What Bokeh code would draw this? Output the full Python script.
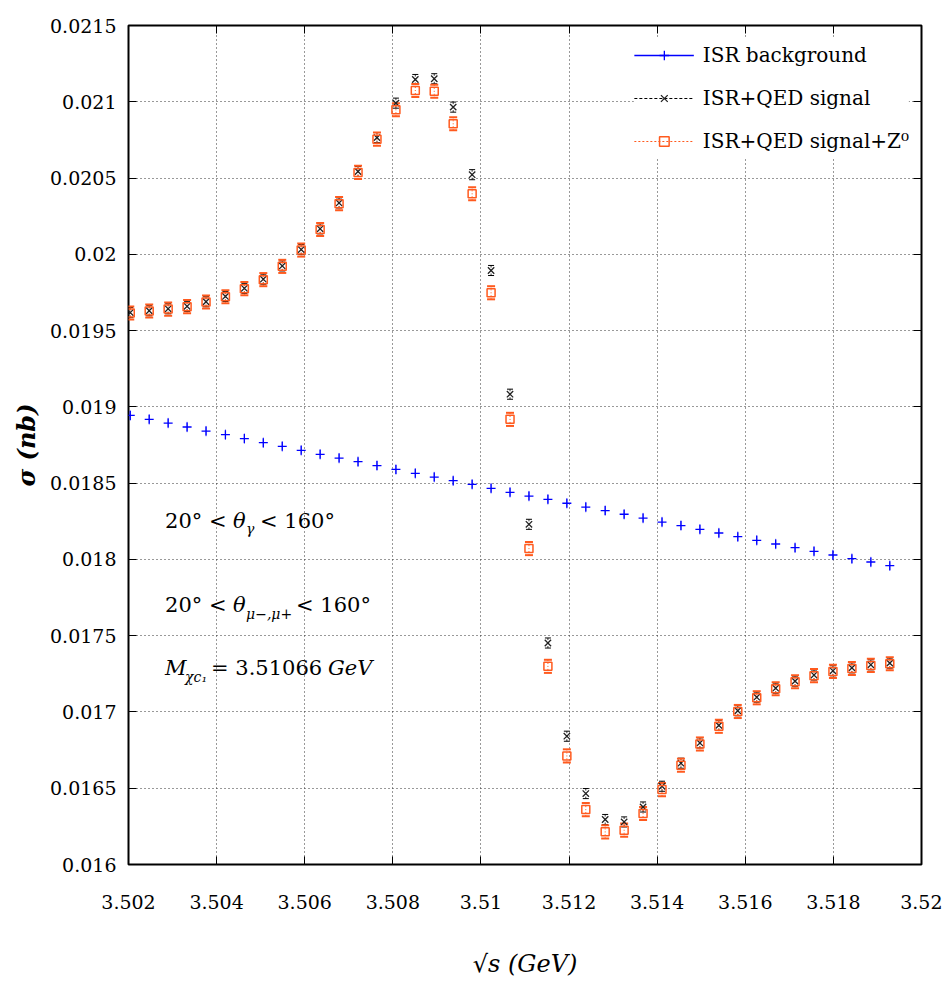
from bokeh.plotting import figure
from bokeh.models import (Range1d, FixedTicker, CustomJSTickFormatter, LinearAxis, Legend,
                          LegendItem, Whisker, TeeHead, ColumnDataSource, Label)
from bokeh.embed import file_html
from bokeh.resources import INLINE

# ---------------- data ----------------
energy = [3.50204, 3.50247, 3.50290, 3.50333, 3.50376, 3.50420, 3.50463, 3.50506, 3.50549,
          3.50592, 3.50635, 3.50678, 3.50721, 3.50764, 3.50807, 3.50851, 3.50894, 3.50937,
          3.50980, 3.51023, 3.51066, 3.51109, 3.51152, 3.51195, 3.51238, 3.51282, 3.51325,
          3.51368, 3.51411, 3.51454, 3.51497, 3.51540, 3.51583, 3.51626, 3.51669, 3.51713,
          3.51756, 3.51799, 3.51842, 3.51885, 3.51928]

isr_background = [0.018944, 0.018918, 0.018894, 0.018868, 0.018841, 0.018818, 0.018792,
                  0.018765, 0.018741, 0.018715, 0.018689, 0.018664, 0.018641, 0.018615,
                  0.018590, 0.018564, 0.018540, 0.018516, 0.018492, 0.018466, 0.018440,
                  0.018415, 0.018394, 0.018368, 0.018343, 0.018320, 0.018296, 0.018271,
                  0.018245, 0.018222, 0.018197, 0.018173, 0.018149, 0.018125, 0.018101,
                  0.018077, 0.018053, 0.018029, 0.018005, 0.017983, 0.017959]

isr_qed_signal = [0.019618, 0.019630, 0.019643, 0.019659, 0.019689, 0.019724, 0.019777,
                  0.019837, 0.019924, 0.020031, 0.020167, 0.020337, 0.020543, 0.020765,
                  0.020991, 0.021146, 0.021151, 0.020965, 0.020522, 0.019894, 0.019083,
                  0.018230, 0.017452, 0.016841, 0.016465, 0.016295, 0.016279, 0.016377,
                  0.016513, 0.016664, 0.016797, 0.016912, 0.017008, 0.017097, 0.017156,
                  0.017202, 0.017242, 0.017270, 0.017289, 0.017309, 0.017320]

isr_qed_signal_z0 = [0.019615, 0.019628, 0.019641, 0.019657, 0.019687, 0.019722, 0.019775,
                     0.019834, 0.019921, 0.020028, 0.020163, 0.020332, 0.020537, 0.020755,
                     0.020948, 0.021074, 0.021069, 0.020856, 0.020397, 0.019748, 0.018918,
                     0.018071, 0.017299, 0.016712, 0.016360, 0.016214, 0.016225, 0.016334,
                     0.016491, 0.016651, 0.016790, 0.016906, 0.017003, 0.017093, 0.017152,
                     0.017198, 0.017238, 0.017266, 0.017285, 0.017305, 0.017316]

bg_err = 0.000034
sig_err = 0.000033
z0_err = 0.000043

x_ticks = [3.502, 3.504, 3.506, 3.508, 3.51, 3.512, 3.514, 3.516, 3.518, 3.52]
x_tick_labels = ["3.502", "3.504", "3.506", "3.508", "3.51", "3.512", "3.514", "3.516",
                 "3.518", "3.52"]
y_ticks = [0.016, 0.0165, 0.017, 0.0175, 0.018, 0.0185, 0.019, 0.0195, 0.02, 0.0205,
           0.021, 0.0215]
y_tick_labels = ["0.016", "0.0165", "0.017", "0.0175", "0.018", "0.0185", "0.019",
                 "0.0195", "0.02", "0.0205", "0.021", "0.0215"]

series_labels = ["ISR background", "ISR+QED signal", "ISR+QED signal+Z\u2070"]

BLUE = "#0000ff"
BLACK = "#000000"
ORANGE = "#ff5a1e"
FONT = "DejaVu Serif"

# ---------------- figure ----------------
p = figure(width=942, height=988, output_backend="svg", toolbar_location=None,
           x_range=Range1d(3.502, 3.52), y_range=Range1d(0.016, 0.0215),
           min_border_left=128, min_border_right=21, min_border_top=25,
           min_border_bottom=124)
p.background_fill_color = "white"
p.border_fill_color = "white"
p.outline_line_color = "black"
p.outline_line_width = 2

xt = FixedTicker(ticks=x_ticks, minor_ticks=[])
yt = FixedTicker(ticks=y_ticks, minor_ticks=[])
fmt_code = """
let best = 0;
for (let i = 0; i < vals.length; i++) {
  if (Math.abs(vals[i] - tick) < Math.abs(vals[best] - tick)) best = i;
}
return labs[best];
"""
xfmt = CustomJSTickFormatter(args=dict(vals=x_ticks, labs=x_tick_labels), code=fmt_code)
yfmt = CustomJSTickFormatter(args=dict(vals=y_ticks, labs=y_tick_labels), code=fmt_code)

for ax, tk, fm in ((p.xaxis[0], xt, xfmt), (p.yaxis[0], yt, yfmt)):
    ax.ticker = tk
    ax.formatter = fm
    ax.axis_line_color = None
    ax.major_tick_in = 8
    ax.major_tick_out = 0
    ax.major_tick_line_color = "black"
    ax.major_tick_line_width = 1
    ax.minor_tick_line_color = None
    ax.major_label_text_font = FONT
    ax.major_label_text_font_size = "19px"
    ax.major_label_text_color = "black"
    ax.axis_label_text_font = FONT
    ax.axis_label_text_color = "black"

p.xaxis[0].major_label_standoff = 30
p.yaxis[0].major_label_standoff = 12
p.xaxis[0].axis_label = "\u221as (GeV)"
p.xaxis[0].axis_label_text_font_style = "italic"
p.xaxis[0].axis_label_text_font_size = "24px"
p.xaxis[0].axis_label_standoff = 38
p.yaxis[0].axis_label = "\u03c3 (nb)"
p.yaxis[0].axis_label_text_font_style = "bold italic"
p.yaxis[0].axis_label_text_font_size = "24px"
p.yaxis[0].axis_label_standoff = 6

# mirrored tick marks on top and right (no labels)
blank = CustomJSTickFormatter(code="return ''")
for side, tk in (("above", xt), ("right", yt)):
    ax = LinearAxis(ticker=tk, formatter=blank, axis_line_color=None, major_tick_in=8,
                    major_tick_out=0, minor_tick_line_color=None, major_label_standoff=0)
    p.add_layout(ax, side)

for g, tk in ((p.xgrid[0], xt), (p.ygrid[0], yt)):
    g.ticker = tk
    g.grid_line_color = "#333333"
    g.grid_line_dash = "1 3"
    g.grid_line_width = 1

# ---------------- data glyphs ----------------
src = ColumnDataSource(dict(
    x=energy,
    bg=isr_background,
    bg_lo=[v - bg_err for v in isr_background],
    bg_hi=[v + bg_err for v in isr_background],
    sig=isr_qed_signal,
    sig_lo=[v - sig_err for v in isr_qed_signal],
    sig_hi=[v + sig_err for v in isr_qed_signal],
    z0=isr_qed_signal_z0,
    z0_lo=[v - z0_err for v in isr_qed_signal_z0],
    z0_hi=[v + z0_err for v in isr_qed_signal_z0],
))

p.add_layout(Whisker(source=src, base="x", lower="bg_lo", upper="bg_hi", dimension="height",
                     line_color=BLUE, line_width=1, line_alpha=0.6,
                     lower_head=None, upper_head=None))
r_bg = p.scatter("x", "bg", source=src, marker="cross", size=9, line_color=BLUE,
                 line_width=1.3)

p.add_layout(Whisker(source=src, base="x", lower="sig_lo", upper="sig_hi", dimension="height",
                     line_color=BLACK, line_width=0.8, line_dash="2 2",
                     lower_head=TeeHead(size=6, line_color=BLACK, line_width=1),
                     upper_head=TeeHead(size=6, line_color=BLACK, line_width=1)))
r_sig = p.scatter("x", "sig", source=src, marker="x", size=9, line_color="#222222",
                  line_width=1.3)

p.add_layout(Whisker(source=src, base="x", lower="z0_lo", upper="z0_hi", dimension="height",
                     line_color=ORANGE, line_width=1, line_dash="1 2",
                     lower_head=TeeHead(size=8, line_color=ORANGE, line_width=2),
                     upper_head=TeeHead(size=8, line_color=ORANGE, line_width=2)))
r_z0 = p.scatter("x", "z0", source=src, marker="square", size=8, line_color=ORANGE,
                 fill_color=None, line_width=1.5)

# legend sample lines: single-point lines draw nothing on the plot, only in the legend
l_bg = p.line(x=energy[:1], y=isr_background[:1], line_color=BLUE, line_width=1.5)
l_sig = p.line(x=energy[:1], y=isr_qed_signal[:1], line_color=BLACK, line_width=1,
               line_dash="3 2")
l_z0 = p.line(x=energy[:1], y=isr_qed_signal_z0[:1], line_color=ORANGE, line_width=1.2,
              line_dash="2 2")

legend = Legend(items=[
    LegendItem(label=series_labels[0], renderers=[l_bg, r_bg]),
    LegendItem(label=series_labels[1], renderers=[l_sig, r_sig]),
    LegendItem(label=series_labels[2], renderers=[l_z0, r_z0]),
], location="top_right")
legend.label_text_font = FONT
legend.label_text_font_size = "20px"
legend.label_text_color = "black"
legend.label_standoff = 9
legend.glyph_width = 60
legend.glyph_height = 24
legend.label_height = 36
legend.spacing = 7
legend.padding = 4
legend.margin = 12
legend.border_line_color = None
legend.background_fill_color = "white"
legend.background_fill_alpha = 1.0
p.add_layout(legend, "center")

# ---------------- annotations ----------------
ann_x = 3.50283
ann_main = "21px"
ann_sub = "14px"


def add_text(x, y, text, size, dx=0, dy=0, style="normal"):
    p.add_layout(Label(x=x, y=y, text=text, x_offset=dx, y_offset=dy,
                       text_font=FONT, text_font_size=size, text_font_style=style,
                       text_color="black", text_baseline="middle", text_align="left"))


y1, y2, y3 = 0.01825, 0.0177, 0.01729
add_text(ann_x, y1, "20\u00b0 <", ann_main)
add_text(ann_x, y1, "\u03b8", ann_main, dx=68, style="italic")
add_text(ann_x, y1, "\u03b3", ann_sub, dx=81, dy=-8, style="italic")
add_text(ann_x, y1, "< 160\u00b0", ann_main, dx=95)

add_text(ann_x, y2, "20\u00b0 <", ann_main)
add_text(ann_x, y2, "\u03b8", ann_main, dx=68, style="italic")
add_text(ann_x, y2, "\u03bc\u2212,\u03bc+", ann_sub, dx=81, dy=-9, style="italic")
add_text(ann_x, y2, "< 160\u00b0", ann_main, dx=131)

add_text(ann_x, y3, "M", ann_main, style="italic")
add_text(ann_x, y3, "\u03c7c\u2081", ann_sub, dx=20, dy=-9, style="italic")
add_text(ann_x, y3, "= 3.51066", ann_main, dx=46)
add_text(ann_x, y3, "GeV", ann_main, dx=163, style="italic")

open("out.html", "w").write(file_html(p, INLINE))
